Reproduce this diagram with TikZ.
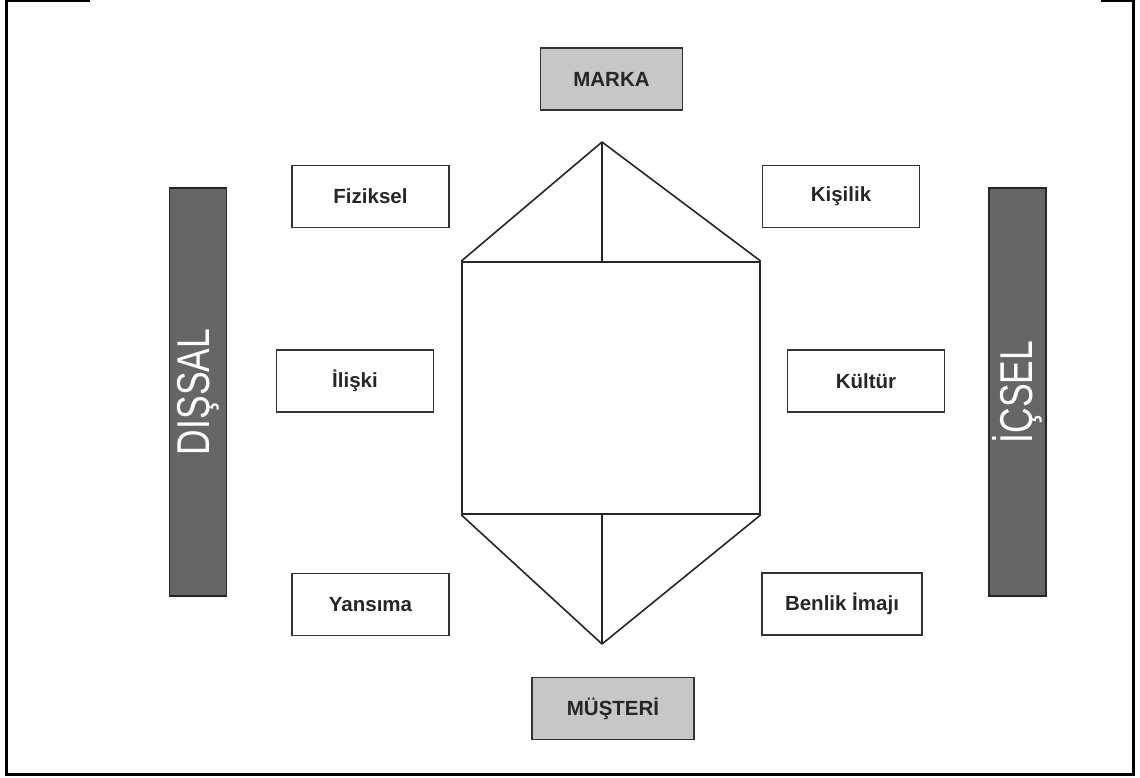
\documentclass[tikz,border=0pt]{standalone}
\usepackage{fontspec}
\setmainfont{Liberation Sans}
\usepackage{graphicx}
\usetikzlibrary{positioning}
\colorlet{BaslikBG}{black!22}
\colorlet{SeritBG}{black!60}
\tikzstyle{kutu}=[draw=black!80,line width=1.6pt,rectangle,minimum width=157pt,minimum height=62pt,inner sep=0pt,font=\fontsize{20.5}{24}\selectfont\bfseries,text=black!85]
\tikzstyle{baslik}=[kutu,fill=BaslikBG,minimum width=142pt]
\tikzstyle{serit}=[draw=black!85,line width=1.6pt,rectangle,fill=SeritBG,minimum width=57pt,minimum height=408pt,inner sep=0pt]
\tikzstyle{cizgi}=[line width=1.6pt,draw=black!85,line join=round]
\newcommand{\Serit}[3]{%
    \node[serit] (#1) at (#2) {};
    \node[rotate=90,text=white,font=\fontsize{46}{50}\selectfont] at (#1) {\scalebox{.77}[1]{#3}};
}

\begin{document}
\begin{tikzpicture}[x=1pt,y=-1pt]
    \useasboundingbox (0,0) rectangle (1140,778);
    % Frame
    \draw[line width=3pt] (90,0.5) -- (6.5,0.5) -- (6.5,774.5) -- (1133.5,774.5) -- (1133.5,0.5) -- (1101,0.5);

    % Top and bottom
    \node[baslik] (marka) at (611.5,79) {MARKA};
    \node[baslik,minimum width=162pt] (musteri) at (613,708.5) {MÜŞTERİ};

    % Bars
    \Serit{dissal}{198,392}{DIŞSAL}
    \Serit{icsel}{1017.5,392}{İÇSEL}

    % Facets
    \node[kutu] (fiziksel) at (370.5,196.5) {Fiziksel};
    \node[kutu] (iliski) at (355,381) {İlişki};
    \node[kutu] (yansima) at (370.5,604.5) {Yansıma};
    \node[kutu] (kisilik) at (841,196.5) {Kişilik};
    \node[kutu] (kultur) at (866,381) {Kültür};
    \node[kutu,minimum width=160pt] (benlik) at (842,604) {Benlik İmajı};

    % Prism
    \node[cizgi,rectangle,minimum width=298pt,minimum height=252pt,inner sep=0pt] (kare) at (611,388) {};
    \coordinate (ust) at (602,142);
    \coordinate (alt) at (602,644);
    \draw[cizgi] (kare.north west) -- (ust) -- (kare.north east);
    \draw[cizgi] (ust) -- (ust |- kare.north);
    \draw[cizgi] (kare.south west) -- (alt) -- (kare.south east);
    \draw[cizgi] (alt) -- (alt |- kare.south);
\end{tikzpicture}
\end{document}
